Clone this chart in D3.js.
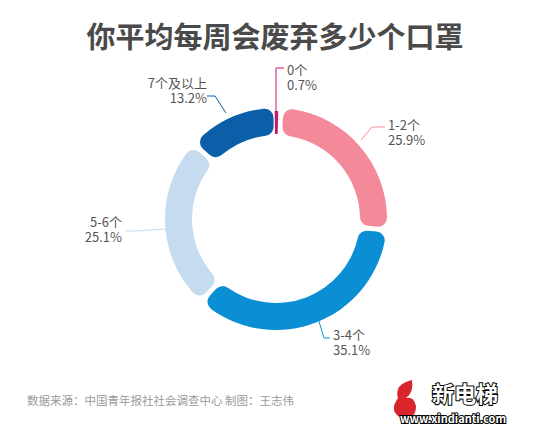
<!DOCTYPE html>
<html><head><meta charset="utf-8">
<script src="https://cdn.jsdelivr.net/npm/d3@7"></script>
<style>body{margin:0;background:#fff}text{font-family:"Noto Sans CJK SC","Noto Sans",sans-serif}</style>
</head><body>
<svg id="chart" width="550" height="431"></svg>
<script>
const categories = ["0个", "1-2个", "3-4个", "5-6个", "7个及以上"];
const values = [0.7, 25.9, 35.1, 25.1, 13.2];
const colors = ["#c8196e", "#f4899a", "#0a8fd4", "#c5dcf0", "#0a5fa8"];
// label anchor [x, y, anchor] and leader line points
const labelPos = [[287, 78, "start"], [388, 133, "start"], [333, 343, "start"], [122, 230, "end"], [207, 91, "end"]];
const leaders = [
  [[276, 112], [276, 68], [284, 68]],
  [[361, 140], [372, 127], [385, 127]],
  [[318, 318], [324, 338], [330, 338]],
  [[183, 228], [135, 231], [125, 231]],
  [[226, 113], [215, 96], [207, 96]]
];

const svg = d3.select("#chart");
svg.append("text").attr("x", 275).attr("y", 48).attr("text-anchor", "middle")
  .attr("font-size", 29).attr("font-weight", "bold").attr("fill", "#4a4a4a")
  .text("你平均每周会废弃多少个口罩");

const cx = 276, cy = 219;
const pie = d3.pie().sort(null).value(d => d)(values);
const arc = d3.arc().innerRadius(84).outerRadius(111).cornerRadius(9).padAngle(0.035);
const arc0 = d3.arc().innerRadius(85).outerRadius(108);
const g = svg.append("g").attr("transform", `translate(${cx},${cy})`);
g.selectAll("path").data(pie).enter().append("path")
  .attr("d", (d, i) => i === 0 ? arc0({startAngle: -0.012, endAngle: 0.02}) : arc(d))
  .attr("fill", (d, i) => colors[i]);

svg.selectAll("polyline").data(leaders).enter().append("polyline")
  .attr("points", d => d.map(p => p.join(",")).join(" "))
  .attr("fill", "none").attr("stroke", (d, i) => colors[i]).attr("stroke-width", 1);

labelPos.forEach((p, i) => {
  const t = svg.append("text").attr("x", p[0]).attr("y", p[1]).attr("text-anchor", p[2])
    .attr("font-size", 13).attr("fill", "#555");
  t.append("tspan").attr("x", p[0]).attr("dy", -3).text(categories[i]);
  t.append("tspan").attr("x", p[0]).attr("dy", 15).text(values[i].toFixed(1) + "%");
});

svg.append("text").attr("x", 27).attr("y", 405).attr("font-size", 11.5).attr("fill", "#999")
  .text("数据来源：中国青年报社社会调查中心 制图：王志伟");

// logo
const logo = svg.append("g");
logo.append("path").attr("d", "M412,380 q-18,4 -14,18 q-10,14 4,20 q14,2 14,-12 q-2,-10 -10,-8 q8,-6 6,-18 z")
  .attr("fill", "#d9262c");
logo.append("text").attr("x", 432).attr("y", 402).attr("font-size", 22).attr("font-weight", "bold")
  .attr("fill", "#fff").attr("stroke", "#000").attr("stroke-width", 2).attr("paint-order", "stroke").text("新电梯");
logo.append("text").attr("x", 400).attr("y", 423).attr("font-size", 11).attr("font-weight", "bold")
  .attr("fill", "#fff").attr("stroke", "#000").attr("stroke-width", 2).attr("paint-order", "stroke").text("www.xindianti.com");
</script>
</body></html>
